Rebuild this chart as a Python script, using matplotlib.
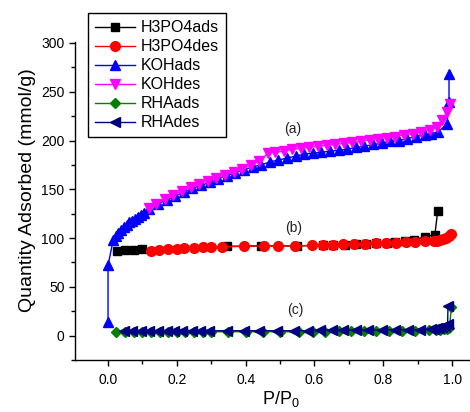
import matplotlib
matplotlib.use("Agg")
import matplotlib.pyplot as plt
from matplotlib.ticker import MultipleLocator

plt.rcParams['font.family'] = ['Liberation Sans', 'DejaVu Sans']
plt.rcParams['mathtext.fontset'] = 'custom'
plt.rcParams['mathtext.rm'] = 'Liberation Sans'
plt.rcParams['mathtext.it'] = 'Liberation Sans'

# H3PO4 activated sample
h3po4_ads_x = [0.026, 0.05, 0.076, 0.10, 0.347, 0.445, 0.55, 0.626, 0.655, 0.69, 0.72,
               0.75, 0.78, 0.81, 0.835, 0.862, 0.89, 0.92, 0.95, 0.958]
h3po4_ads_y = [87, 88, 88, 88.5, 91.5, 92, 92, 92.5, 93, 93, 93.5,
               94, 94.5, 95, 95.5, 96.5, 98.5, 101, 103.5, 127.5]
h3po4_des_x = [0.996, 0.99, 0.982, 0.973, 0.964, 0.955, 0.946, 0.921, 0.892, 0.865, 0.836,
               0.807, 0.778, 0.746, 0.716, 0.684, 0.655, 0.626, 0.594, 0.544, 0.494, 0.453,
               0.395, 0.33, 0.298, 0.275, 0.249, 0.222, 0.199, 0.175, 0.149, 0.126]
h3po4_des_y = [104, 102.5, 100.5, 99, 98, 97.5, 97, 96.5, 96, 95.5, 95,
               95, 94.5, 94, 93.5, 93.5, 93, 93, 92.5, 92, 92, 92,
               91.5, 91, 90.5, 90.5, 90, 89.5, 89, 88.5, 88, 87]

# KOH activated sample
koh_ads_x = [0.0, 0.0, 0.015, 0.022, 0.03, 0.038, 0.046, 0.054, 0.062, 0.07, 0.078, 0.086,
             0.095, 0.105, 0.12, 0.145, 0.17, 0.195, 0.22, 0.245, 0.27, 0.295, 0.32, 0.345,
             0.37, 0.395, 0.42, 0.445, 0.47, 0.495, 0.52, 0.545, 0.57, 0.595, 0.62, 0.645,
             0.67, 0.695, 0.72, 0.745, 0.77, 0.795, 0.82, 0.845, 0.87, 0.895, 0.92, 0.94,
             0.96, 0.985, 0.991, 0.991]
koh_ads_y = [14, 72, 98, 102, 105, 108, 111, 113, 116, 118, 120, 122,
             124, 126, 130, 135, 139, 143, 147, 151, 154, 157, 161, 164,
             167, 170, 173, 175, 178, 180, 182, 184, 186, 187, 188, 189,
             190, 191, 193, 194, 196, 197, 199, 200, 202, 204, 206, 207,
             209, 217, 239, 268]
koh_des_x = [0.995, 0.985, 0.972, 0.955, 0.935, 0.91, 0.885, 0.86, 0.835, 0.81, 0.785,
             0.76, 0.735, 0.71, 0.685, 0.66, 0.635, 0.61, 0.585, 0.56, 0.535, 0.51,
             0.485, 0.465, 0.44, 0.415, 0.39, 0.365, 0.34, 0.315, 0.29, 0.265, 0.24,
             0.215, 0.19, 0.165, 0.14, 0.12]
koh_des_y = [237, 229, 221, 214, 211, 209, 207, 206, 204, 203, 202,
             201, 199, 198, 197, 196, 195, 194, 193, 192, 191, 189,
             188, 187, 179, 175, 171, 168, 165, 162, 159, 155, 152,
             148, 144, 140, 135, 131]

# raw rice husk ash
rha_ads_x = [0.024, 0.05, 0.075, 0.10, 0.125, 0.15, 0.175, 0.20, 0.225, 0.25, 0.275,
             0.30, 0.35, 0.40, 0.45, 0.50, 0.555, 0.596, 0.63, 0.67, 0.705, 0.743,
             0.778, 0.816, 0.854, 0.892, 0.933, 0.952, 0.965, 0.975, 0.985, 0.992, 0.998]
rha_ads_y = [4, 4, 4, 4, 4, 4, 4, 4, 4, 4, 4,
             4, 4, 4, 4, 4, 4, 4, 4, 4.5, 4.5, 4.5,
             4.5, 5, 5, 5, 5.5, 5.5, 6, 6.5, 7, 7.5, 29]
rha_des_x = [0.988, 0.987, 0.98, 0.972, 0.963, 0.955, 0.946, 0.94, 0.906, 0.871, 0.833,
             0.795, 0.757, 0.722, 0.684, 0.65, 0.615, 0.58, 0.54, 0.49, 0.44, 0.395,
             0.345, 0.292, 0.266, 0.243, 0.216, 0.193, 0.17, 0.146, 0.12, 0.096, 0.07, 0.047]
rha_des_y = [30, 12, 10, 9, 8, 7.5, 7, 6.5, 6, 6, 6,
             6, 5.5, 5.5, 5.5, 5.5, 5.5, 5, 5, 5, 5, 5,
             5, 5, 5, 5, 5, 5, 5, 5, 5, 5, 5, 5]

fig = plt.figure(figsize=(4.7, 4.12), dpi=100)
ax = fig.add_axes([75 / 470, 1 - 360 / 412, 1 - 75 / 470, (360 - 42) / 412])

ax.plot(h3po4_ads_x, h3po4_ads_y, 's-', color='black', lw=1, ms=6, label='H3PO4ads')
ax.plot(h3po4_des_x, h3po4_des_y, 'o-', color='red', lw=1, ms=7, label='H3PO4des')
ax.plot(koh_ads_x, koh_ads_y, '^-', color='blue', lw=1, ms=7.5, label='KOHads')
ax.plot(koh_des_x, koh_des_y, 'v-', color='magenta', lw=1, ms=7.5, label='KOHdes')
ax.plot(rha_ads_x, rha_ads_y, 'D-', color='green', lw=1, ms=5.5, label='RHAads')
ax.plot(rha_des_x, rha_des_y, '<-', color='navy', lw=1, ms=7, label='RHAdes')

ax.text(0.538, 212, '(a)', fontsize=10, ha='center', va='center', color='#222222')
ax.text(0.538, 110, '(b)', fontsize=10, ha='center', va='center', color='#222222')
ax.text(0.544, 26.5, '(c)', fontsize=10, ha='center', va='center', color='#222222')

ax.set_xlim(-0.096, 1.052)
ax.set_ylim(-25, 301)
ax.xaxis.set_major_locator(MultipleLocator(0.2))
ax.xaxis.set_minor_locator(MultipleLocator(0.1))
ax.yaxis.set_major_locator(MultipleLocator(50))
ax.yaxis.set_minor_locator(MultipleLocator(25))
ax.xaxis.set_major_formatter(plt.FormatStrFormatter('%.1f'))
ax.tick_params(which='major', direction='out', length=4.5, width=1, labelsize=10, pad=3)
ax.tick_params(which='minor', direction='out', length=3, width=1)
ax.tick_params(axis='x', which='major', pad=5)
for side in ('top', 'right'):
    ax.spines[side].set_visible(False)
for side in ('left', 'bottom'):
    ax.spines[side].set_linewidth(1)

fig.text(27.5 / 470, 1 - 190 / 412, 'Quantity Adsorbed (mmol/g)', rotation=90,
         ha='center', va='center', fontsize=14)
fig.text(262 / 470, 1 - 404 / 412, r'P/P$_\mathrm{0}$', ha='left', va='baseline', fontsize=13)

leg = ax.legend(loc='upper left', bbox_to_anchor=(88 / 470, 1 - 13 / 412),
                bbox_transform=fig.transFigure, borderaxespad=0, fontsize=11.5,
                fancybox=False, framealpha=1, edgecolor='black', numpoints=1,
                handlelength=2.5, handletextpad=0.35, labelspacing=0.25, borderpad=0.45)
leg.get_frame().set_linewidth(1)

fig.savefig('out.png', dpi=100)
